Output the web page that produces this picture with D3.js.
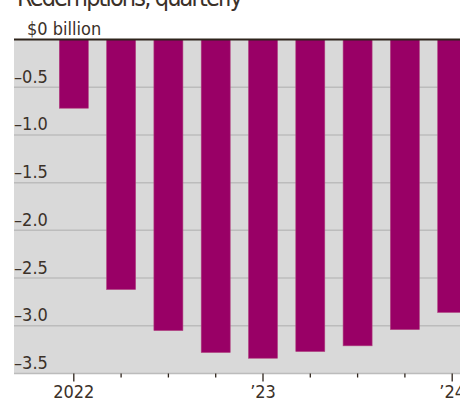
<!DOCTYPE html>
<html>
<head>
<meta charset="utf-8">
<script src="https://cdn.jsdelivr.net/npm/d3@7"></script>
<style>
  body { margin: 0; background: #fff; }
  svg text { font-family: "Liberation Sans Narrow", "DejaVu Sans Condensed", "Roboto", sans-serif; fill: #3b3129; }
</style>
</head>
<body>
<svg width="460" height="406"></svg>
<script>
// quarters, Q1 2022 .. Q1 2024
const quarters = ['2022Q1','2022Q2','2022Q3','2022Q4','2023Q1','2023Q2','2023Q3','2023Q4','2024Q1'];
const redemptions = [-0.72, -2.62, -3.05, -3.28, -3.34, -3.27, -3.21, -3.04, -2.86];
const yTicks = [0, -0.5, -1.0, -1.5, -2.0, -2.5, -3.0, -3.5];
const xLabels = {'2022Q1': '2022', '2023Q1': '\u201923', '2024Q1': '\u201924'};

const plot = {left: 14, right: 460, top: 39.5, bottom: 373.5};

const svg = d3.select('svg');

//------------SCALES------------------------------
const x = d3.scaleBand()
            .domain(quarters)
            .range([plot.left, 512])
            .paddingInner(0.387)
            .paddingOuter(0.958);

const y = d3.scaleLinear()
            .domain([-3.5, 0])
            .range([plot.bottom, plot.top]);

//------------BACKGROUND + GRID--------------------
svg.append('rect')
   .attr('x', plot.left).attr('y', plot.top)
   .attr('width', plot.right - plot.left)
   .attr('height', plot.bottom - plot.top)
   .attr('fill', '#d9d9d9');

svg.append('g')
   .selectAll('line')
   .data(yTicks.filter(d => d !== 0))
   .enter().append('line')
     .attr('x1', plot.left).attr('x2', plot.right)
     .attr('y1', d => y(d)).attr('y2', d => y(d))
     .attr('stroke', '#bcbcbc')
     .attr('stroke-width', 1.5);

//------------BARS-------------------------------
svg.append('g')
   .selectAll('rect')
   .data(quarters)
   .enter().append('rect')
     .attr('x', d => x(d))
     .attr('y', y(0))
     .attr('width', x.bandwidth())
     .attr('height', (d, i) => y(redemptions[i]) - y(0))
     .attr('fill', '#990066')
     .attr('stroke', '#b0407f')
     .attr('stroke-width', 0.6);

// zero line
svg.append('line')
   .attr('x1', plot.left).attr('x2', plot.right)
   .attr('y1', y(0)).attr('y2', y(0))
   .attr('stroke', '#2e241c')
   .attr('stroke-width', 2);

//------------Y LABELS---------------------------
svg.append('g')
   .selectAll('text')
   .data(yTicks)
   .enter().append('text')
     .attr('x', d => d === 0 ? 27 : plot.left)
     .attr('y', d => y(d) - 4.5)
     .attr('font-size', 18)
     .text(d => d === 0 ? '$0 billion' : '\u2013' + Math.abs(d).toFixed(1));

//------------X AXIS-----------------------------
const xAxis = svg.append('g');
xAxis.selectAll('line')
     .data(quarters)
     .enter().append('line')
       .attr('x1', d => x(d) + x.bandwidth() / 2)
       .attr('x2', d => x(d) + x.bandwidth() / 2)
       .attr('y1', plot.bottom)
       .attr('y2', d => plot.bottom + (xLabels[d] ? 8 : 4))
       .attr('stroke', '#2e241c')
       .attr('stroke-width', 1.3);

xAxis.selectAll('text')
     .data(quarters.filter(d => xLabels[d]))
     .enter().append('text')
       .attr('x', d => x(d) + x.bandwidth() / 2)
       .attr('y', 398)
       .attr('text-anchor', 'middle')
       .attr('font-size', 18)
       .text(d => xLabels[d]);

//------------TITLE (cut off at top)-------------
svg.append('text')
   .attr('x', 17)
   .attr('y', 6)
   .attr('font-size', 25)
   .attr('textLength', 226)
   .text('Redemptions, quarterly');
</script>
</body>
</html>
